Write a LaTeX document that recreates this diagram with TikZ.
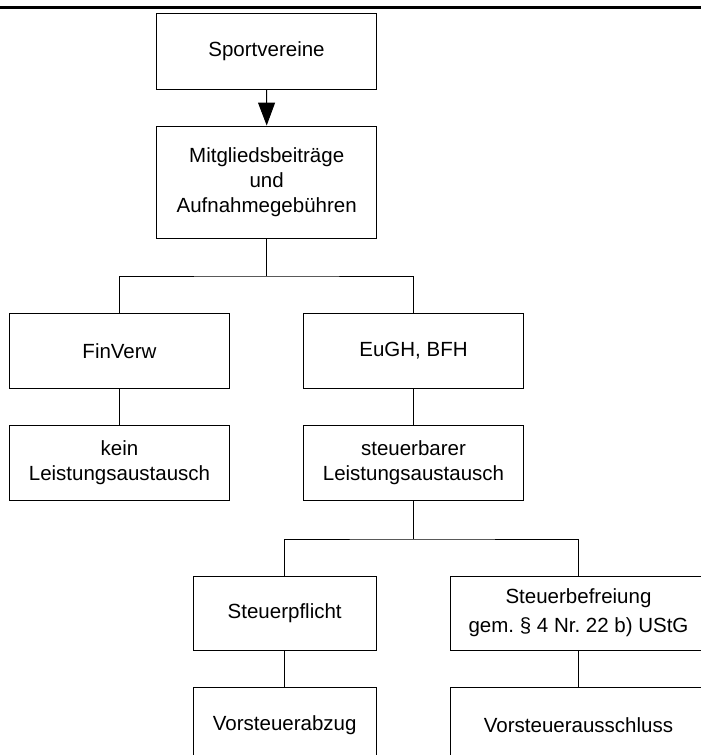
\documentclass[tikz,border=0pt]{standalone}
\usepackage{fontspec}
\setmainfont{Liberation Sans}
\usetikzlibrary{arrows.meta}
\begin{document}
\frenchspacing
\begin{tikzpicture}[x=1bp,y=-1bp,
  every node/.style={font=\fontsize{20.5bp}{25bp}\selectfont},
  chartbox/.style={draw=black,line width=1bp,rectangle,inner sep=0pt,
    align=center,minimum width=220bp,minimum height=75bp},
  link/.style={draw=black,line width=1bp},
  rule/.style={draw=black,line width=2.6bp}]
  % page frame
  \fill[white] (0,0) rectangle (701,755);
  \clip (0,0) rectangle (701,755);
  \useasboundingbox (0,0) rectangle (701,755);

  % header rule
  \coordinate (ruleL) at (0,7.7);
  \coordinate (ruleR) at (701,7.7);
  \draw[rule] (ruleL) -- (ruleR);

  % boxes
  \node[chartbox] (sport) at (266.5,51.5) {Sportvereine};
  \node[chartbox,minimum height=112.3bp] (mitg) at (266.7,182.2)
    {Mitgliedsbeiträge\\und\\Aufnahmegebühren};
  \node[chartbox] (finv) at (119.5,350.8) {FinVerw};
  \node[chartbox] (eugh) at (413.5,350.8) {EuGH, BFH};
  \node[chartbox,minimum height=74.6bp] (kein) at (119.5,463) {kein\\Leistungsaustausch};
  \node[chartbox,minimum height=74.6bp] (steu) at (413.5,463) {steuerbarer\\Leistungsaustausch};
  \node[chartbox,minimum width=182.7bp,minimum height=74bp] (pfl) at (284.7,613) {Steuerpflicht};
  \node[chartbox,minimum width=257bp,minimum height=74bp] (befr) at (578.5,613)
    {Steuerbefreiung\\[4bp]gem. § 4 Nr. 22 b) UStG};
  \node[chartbox,minimum width=182.7bp] (abz) at (284.7,725.2) {Vorsteuerabzug};
  \node[chartbox,minimum width=257bp] (auss) at (578.5,725) {Vorsteuerausschluss};

  % junctions
  \coordinate (j1) at (266.7,276);
  \coordinate (j2) at (413.5,539);

  % connectors
  \draw[link,-{Triangle[length=23bp,width=17bp]}] (sport.south) -- (mitg.north);
  \draw[link] (mitg.south) -- (j1);
  \draw[link] (finv.north) |- (j1) -| (eugh.north);
  \draw[link] (finv.south) -- (kein.north);
  \draw[link] (eugh.south) -- (steu.north);
  \draw[link] (steu.south) -- (j2);
  \draw[link] (pfl.north) |- (j2) -| (befr.north);
  \draw[link] (pfl.south) -- (abz.north);
  \draw[link] (befr.south) -- (auss.north);
\end{tikzpicture}
\end{document}
